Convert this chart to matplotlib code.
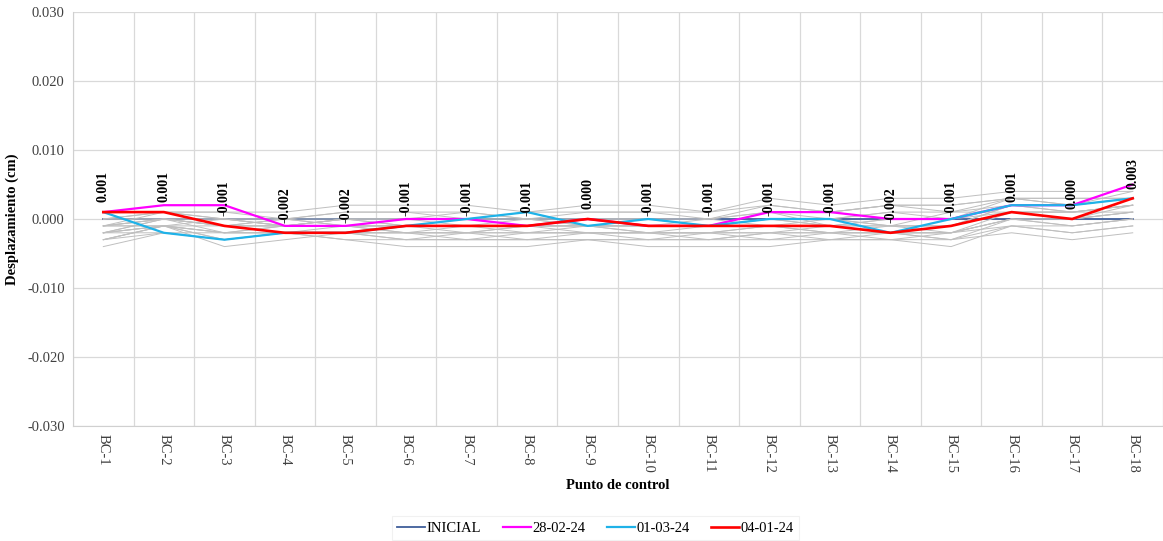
import matplotlib
matplotlib.use("Agg")
import matplotlib.pyplot as plt
import numpy as np

puntos = ["BC-%d" % i for i in range(1, 19)]

# valores en milesimas de cm
inicial = [0] * 18
f_28_02_24 = [1, 2, 2, -1, -1, 0, 0, -1, 0, -1, -1, 1, 1, 0, 0, 2, 2, 5]
f_01_03_24 = [1, -2, -3, -2, -2, -1, 0, 1, -1, 0, -1, 0, 0, -2, 0, 2, 2, 3]
f_04_01_24 = [1, 1, -1, -2, -2, -1, -1, -1, 0, -1, -1, -1, -1, -2, -1, 1, 0, 3]

# lecturas intermedias (grises, sin leyenda)
otros = [
    [-1, 0, -1, -1, 0, -1, -1, -1, -1, -2, -1, -1, -1, -2, -1, 1, 0, 2],
    [-2, -1, -2, -2, -1, -2, -2, -2, -2, -2, -2, -2, -1, -2, -2, 0, 0, 1],
    [-3, -1, -4, -3, -2, -3, -3, -3, -3, -3, -3, -3, -3, -3, -4, -1, -1, 0],
    [-4, -2, -3, -2, -3, -4, -4, -4, -3, -4, -4, -4, -3, -3, -3, -2, -3, -2],
    [0, 1, 1, 1, 2, 2, 2, 1, 2, 2, 1, 3, 2, 3, 3, 4, 4, 4],
    [-1, 0, 0, 0, 1, 1, 1, 0, 1, 1, 0, 2, 1, 2, 2, 3, 3, 3],
    [-2, 0, -1, -1, -1, 0, 0, -1, 0, 0, -1, 0, 0, -1, -1, 2, 2, 3],
    [-1, 1, 0, -1, 0, 0, -1, 0, -1, -1, 0, -1, 0, 1, 0, 3, 2, 4],
    [-3, -2, -2, -2, -2, -3, -2, -3, -2, -3, -2, -3, -2, -3, -2, -1, -2, -1],
    [-2, -1, -1, 0, -1, -1, -1, -2, -1, -1, -1, 1, -1, 0, 0, 2, 1, 2],
    [0, 0, -1, -1, -1, -1, 0, 0, -1, 0, -1, 0, 0, -1, 1, 1, 1, 1],
    [-1, -1, -3, -2, -2, -2, -3, -2, -2, -2, -3, -2, -2, -2, -3, 0, -1, 0],
    [-3, -1, -2, -1, -1, -1, -1, -1, -1, -1, -1, -1, -1, -1, -1, 1, 1, 2],
    [-2, 0, -2, -1, 0, -1, -2, -1, -1, -2, -2, -1, -2, -2, -2, 1, 0, 1],
    [1, 1, 1, 0, 1, 1, 0, 1, 1, 1, 1, 2, 1, 2, 2, 3, 3, 3],
    [-1, -1, 0, -1, -1, -2, -1, -1, 0, -1, -1, 0, -1, -1, -1, 2, 1, 2],
    [-2, -2, -3, -2, -3, -3, -3, -3, -3, -3, -3, -2, -3, -2, -3, -1, -2, -1],
    [0, 0, 0, 0, 0, 0, 1, 0, 0, 0, 0, 1, 0, 1, 1, 2, 2, 3],
    [-3, -1, -3, -2, -2, -2, -2, -2, -2, -2, -2, -2, -2, -2, -2, 0, 0, 1],
    [-1, 0, -1, 0, -1, -1, -1, -1, -1, -1, -1, 0, -1, 0, 0, 1, 1, 2],
    [-2, -1, -2, -2, -2, -2, -2, -1, -2, -2, -2, -1, -2, -1, -2, 0, -1, 0],
    [0, 1, 0, -1, 0, 0, 0, 0, 0, 0, 0, 1, 1, 2, 1, 3, 2, 3],
]

serif = "Liberation Serif"
x = np.arange(len(puntos))
k = 0.001

fig = plt.figure(figsize=(11.63, 5.41), dpi=100)
ax = fig.add_axes([0.0628, 0.2126, 0.9372, 0.7652])

ax.plot(x, np.array(inicial) * k, color="#3F5E9A", lw=1.3, label="INICIAL", zorder=2)
for s in otros:
    ax.plot(x, np.array(s) * k, color="#BFBFBF", lw=0.7, zorder=2.5)

ax.plot(x, np.array(f_28_02_24) * k, color="#FF00FF", lw=1.6, label="28-02-24", zorder=3)
ax.plot(x, np.array(f_01_03_24) * k, color="#1FB2E8", lw=1.6, label="01-03-24", zorder=4)
ax.plot(x, np.array(f_04_01_24) * k, color="#FF0000", lw=1.9, label="04-01-24", zorder=5)

for xi, v in zip(x, f_04_01_24):
    ax.annotate("%.3f" % (v * k), (xi, v * k), xytext=(0, 7), textcoords="offset points",
                rotation=90, ha="center", va="bottom", fontsize=10, fontweight="bold",
                family=serif, zorder=6)

ax.set_xlim(-0.5, len(puntos) - 0.5)
ax.set_ylim(-0.03, 0.03)
ax.set_yticks(np.arange(-0.03, 0.031, 0.01))
ax.set_yticklabels(["%.3f" % t for t in np.arange(-0.03, 0.031, 0.01)], family=serif, fontsize=10.5, color="#404040")
ax.set_xticks(x)
ax.set_xticklabels(puntos, rotation=270, family=serif, fontsize=10.5, color="#404040")
ax.set_xticks(np.arange(-0.5, len(puntos), 1), minor=True)
ax.tick_params(which="both", length=0)
ax.tick_params(axis="x", pad=6)
ax.tick_params(axis="y", pad=6)
ax.grid(True, axis="y", color="#D9D9D9", lw=0.9)
ax.grid(True, axis="x", which="minor", color="#D9D9D9", lw=0.9)
ax.set_axisbelow(True)
for sp in ["top", "right"]:
    ax.spines[sp].set_visible(False)
for sp in ["left", "bottom"]:
    ax.spines[sp].set_color("#D0D0D0")

ax.set_ylabel("Desplazamiento (cm)", family=serif, fontsize=10.5, fontweight="bold", labelpad=6)
ax.set_xlabel("Punto de control", family=serif, fontsize=10.5, fontweight="bold", labelpad=4)

leg = fig.legend(loc="center", bbox_to_anchor=(0.512, 0.024), ncol=4, frameon=True,
                 fancybox=False, edgecolor="#EEEEEE", handlelength=1.9, handletextpad=0.1,
                 columnspacing=1.5, prop={"family": serif, "size": 10.5})
leg.get_frame().set_linewidth(0.8)

fig.savefig("out.png", dpi=100)
